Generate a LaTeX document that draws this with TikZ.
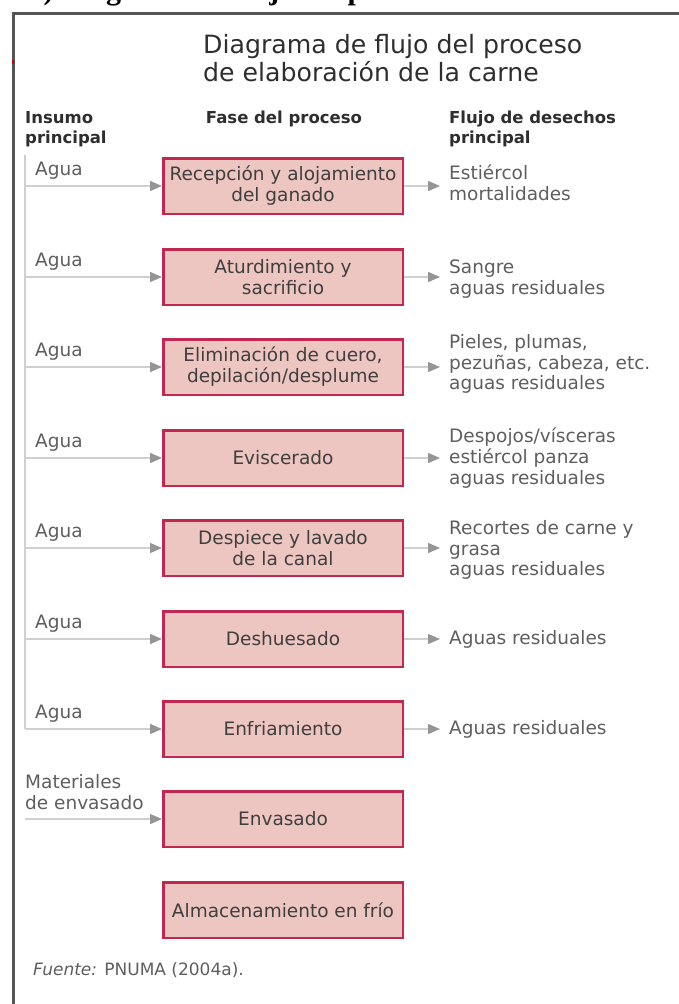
\documentclass[tikz,border=0pt]{standalone}
\usepackage{fontspec}
\setmainfont{DejaVu Sans}
\newfontfamily\capfont{Liberation Serif}
\usetikzlibrary{arrows.meta}
\definecolor{boxred}{HTML}{C0284F}
\definecolor{boxfill}{HTML}{EDC5C1}
\definecolor{boxtxt}{HTML}{3F3F3F}
\definecolor{graytxt}{HTML}{5E5E5E}
\definecolor{headtxt}{HTML}{2E2E2E}
\definecolor{lgray}{HTML}{D0D0D0}
\definecolor{agray}{HTML}{959595}
\definecolor{framegray}{HTML}{555555}
\tikzset{
  stepbox/.style={draw=boxred, line width=2.5pt, fill=boxfill, minimum width=239.5pt,
    minimum height=55.5pt, inner sep=0pt, align=center,
    font=\fontsize{18.5}{21}\selectfont, text=boxtxt},
  flow/.style={draw=lgray, line width=1.4pt, -{Triangle[length=12pt,width=10pt,color=agray]}},
  thinline/.style={draw=lgray, line width=1.4pt},
  outtext/.style={anchor=west, inner xsep=9pt, inner ysep=0pt, align=left,
    font=\fontsize{18.5}{20.8}\selectfont, text=graytxt},
  intext/.style={anchor=west, inner sep=0pt, align=left,
    font=\fontsize{18.5}{20.5}\selectfont, text=graytxt},
  headtext/.style={inner sep=0pt, align=left, font=\bfseries\fontsize{16.5}{20}\selectfont, text=headtxt},
}
\begin{document}
\begin{tikzpicture}[x=1pt,y=-1pt]
\useasboundingbox (0,0) rectangle (679,1004);
% caption of the page above, cut off at the top edge
\begin{scope}
\clip (0,0) rectangle (679,11);
\node[anchor=base west, inner sep=0pt, font=\capfont\bfseries\fontsize{30}{31}\selectfont] (cap) at (30,-1) {c) Diagrama de flujo del proceso};
\end{scope}
% frame
\draw[framegray, line width=3pt] (13,1010) -- (13,13) -- (685,13);
\draw[red!80!black, line width=1.5pt] (13,60) -- (13,64);
% title
\node[anchor=west, inner sep=0pt, align=left, font=\fontsize{25.2}{28}\selectfont, text=headtxt] (title) at (203,58)
  {Diagrama de flujo del proceso\\de elaboración de la carne};
% headers
\node[headtext, anchor=west] (h1) at (25,129) {Insumo\\principal};
\node[headtext, anchor=center] (h2) at (284,119) {Fase del proceso};
\node[headtext, anchor=west] (h3) at (449,129) {Flujo de desechos\\principal};
% boxes
\node[stepbox] (b1) at (283,186) {Recepción y alojamiento\\del ganado};
\node[stepbox] (b2) at (283,277) {Aturdimiento y\\sacrificio};
\node[stepbox] (b3) at (283,367) {Eliminación de cuero,\\depilación/desplume};
\node[stepbox] (b4) at (283,458) {Eviscerado};
\node[stepbox] (b5) at (283,548) {Despiece y lavado\\de la canal};
\node[stepbox] (b6) at (283,639) {Deshuesado};
\node[stepbox] (b7) at (283,729) {Enfriamiento};
\node[stepbox] (b8) at (283,819) {Envasado};
\node[stepbox] (b9) at (283,910) {Almacenamiento en frío};
% outputs
\node[outtext] (o1) at (440,183) {Estiércol\\mortalidades};
\node[outtext] (o2) at (440,279) {Sangre\\aguas residuales};
\node[outtext] (o3) at (440,364) {Pieles, plumas,\\pezuñas, cabeza, etc.\\aguas residuales};
\node[outtext] (o4) at (440,458) {Despojos/vísceras\\estiércol panza\\aguas residuales};
\node[outtext] (o5) at (440,550) {Recortes de carne y\\grasa\\aguas residuales};
\node[outtext] (o6) at (440,639) {Aguas residuales};
\node[outtext] (o7) at (440,729) {Aguas residuales};
\foreach \i in {1,...,7}{
  \draw[flow] (b\i.east) -- (b\i.east -| o\i.west);
}
% inputs
\coordinate (vtop) at (25,155);
\foreach \i/\y in {1/186,2/277,3/367,4/458,5/548,6/639,7/729}{
  \coordinate (i\i) at (25,\y);
  \node[intext] (a\i) at (35,\y-15) {Agua};
  \draw[flow] (i\i) -- (b\i.west);
}
\draw[thinline] (vtop) -- (i7);
\node[intext] (m8) at (25,792) {Materiales\\de envasado};
\coordinate (i8) at (25,819);
\draw[flow] (i8) -- (b8.west);
% source
\node[anchor=west, inner sep=0pt, font=\fontsize{17}{20}\selectfont, text=graytxt] (src) at (33,970) {\textit{Fuente:} PNUMA (2004a).};
\end{tikzpicture}
\end{document}
